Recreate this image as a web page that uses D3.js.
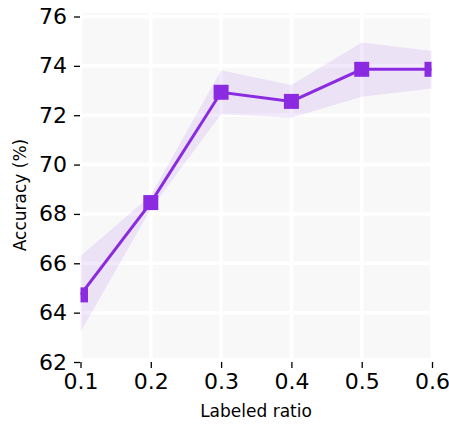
<!DOCTYPE html>
<html>
<head>
<meta charset="utf-8">
<script src="https://cdn.jsdelivr.net/npm/d3@7"></script>
<style>
  html, body { margin: 0; padding: 0; background: #fff; }
  svg { display: block; font-family: "DejaVu Sans", sans-serif; }
</style>
</head>
<body>
<svg id="chart" width="449" height="427"></svg>
<script>
// Labeled ratio vs. accuracy, mean with spread band
const ratios = [0.1, 0.2, 0.3, 0.4, 0.5, 0.6];
const meanAcc = [64.72, 68.46, 72.93, 72.56, 73.86, 73.86];
const upperAcc = [66.3, 68.75, 73.82, 73.22, 74.95, 74.6];
const lowerAcc = [63.22, 68.2, 72.04, 71.9, 72.75, 73.08];
const xTicks = [0.1, 0.2, 0.3, 0.4, 0.5, 0.6];
const yTicks = [62, 64, 66, 68, 70, 72, 74, 76];

const svg = d3.select("#chart");
const color = "#8a2be2";

const x = d3.scaleLinear().domain([0.1, 0.6]).range([80.5, 432]);
const y = d3.scaleLinear().domain([62, 76]).range([362, 16.5]);

// plot background
svg.append("rect")
  .attr("x", 81.5).attr("y", 13)
  .attr("width", 431 - 81.5).attr("height", 358 - 13)
  .attr("fill", "#f8f8f8");

svg.append("clipPath").attr("id", "plotclip")
  .append("rect")
  .attr("x", 80.5).attr("y", 13)
  .attr("width", 431.5 - 80.5).attr("height", 358 - 13);

// white grid lines
const grid = svg.append("g").attr("clip-path", "url(#plotclip)");
grid.selectAll("line.h").data(yTicks).join("line")
  .attr("class", "h")
  .attr("x1", 80.5).attr("x2", 432)
  .attr("y1", d => y(d)).attr("y2", d => y(d))
  .attr("stroke", "#fff").attr("stroke-width", 3.5);
grid.selectAll("line.v").data(xTicks).join("line")
  .attr("class", "v")
  .attr("y1", 10).attr("y2", 362)
  .attr("x1", d => x(d)).attr("x2", d => x(d))
  .attr("stroke", "#fff").attr("stroke-width", 3.5);

const rows = ratios.map((r, i) => ({ r, m: meanAcc[i], lo: lowerAcc[i], hi: upperAcc[i] }));

const plot = svg.append("g").attr("clip-path", "url(#plotclip)");

// spread band
plot.append("path")
  .datum(rows)
  .attr("d", d3.area().x(d => x(d.r)).y0(d => y(d.lo)).y1(d => y(d.hi)))
  .attr("fill", color).attr("fill-opacity", 0.1);

// mean line
plot.append("path")
  .datum(rows)
  .attr("d", d3.line().x(d => x(d.r)).y(d => y(d.m)))
  .attr("fill", "none").attr("stroke", color).attr("stroke-width", 3);

// square markers
const ms = 15;
plot.selectAll("rect.mk").data(rows).join("rect")
  .attr("class", "mk")
  .attr("x", d => x(d.r) - ms / 2).attr("y", d => y(d.m) - ms / 2)
  .attr("width", ms).attr("height", ms)
  .attr("fill", color);

// y axis (ticks only, no spine)
const yAxis = svg.append("g")
  .attr("transform", "translate(80,0)")
  .call(d3.axisLeft(y).tickValues(yTicks).tickFormat(d3.format("d")).tickSize(6).tickPadding(7));
yAxis.select(".domain").remove();
yAxis.selectAll("line").attr("stroke", "#000").attr("stroke-width", 1.3);
yAxis.selectAll("text").attr("font-size", 22).attr("fill", "#000")
  .attr("font-family", "DejaVu Sans, sans-serif");

// x axis (ticks only, no spine)
const xAxis = svg.append("g")
  .attr("transform", "translate(0,362)")
  .call(d3.axisBottom(x).tickValues(xTicks).tickFormat(d3.format(".1f")).tickSize(6).tickPadding(5));
xAxis.select(".domain").remove();
xAxis.selectAll("line").attr("stroke", "#000").attr("stroke-width", 1.3);
xAxis.selectAll("text").attr("font-size", 22).attr("fill", "#000")
  .attr("font-family", "DejaVu Sans, sans-serif");

// axis titles
svg.append("text")
  .attr("x", 256).attr("y", 417)
  .attr("text-anchor", "middle")
  .attr("font-size", 17)
  .text("Labeled ratio");

svg.append("text")
  .attr("transform", "translate(26,195) rotate(-90)")
  .attr("text-anchor", "middle")
  .attr("font-size", 17)
  .text("Accuracy (%)");
</script>
</body>
</html>
